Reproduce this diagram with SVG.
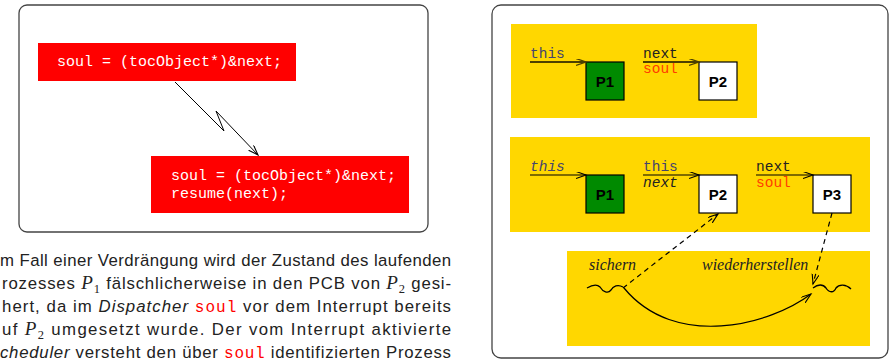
<svg xmlns="http://www.w3.org/2000/svg" width="892" height="363" viewBox="0 0 892 363">
<style>
.frame{fill:#fff;stroke:#444;stroke-width:1.3}
.red{fill:#ff0000}
.code{font-family:"Liberation Mono",monospace;font-size:15px;fill:#fff}
.yel{fill:#ffd700}
.mono{font-family:"Liberation Mono",monospace;font-size:14.5px}
.it{font-style:italic}
.pbox{stroke:#000;stroke-width:1.2}
.plab{font-family:"Liberation Sans",Arial,sans-serif;font-weight:bold;font-size:15px;text-anchor:middle;fill:#000}
.ser{font-family:"Liberation Serif",serif;font-style:italic;font-size:16px;fill:#222}
.para{font-family:"Liberation Sans",Arial,sans-serif;font-size:16.8px;fill:#222}
.math{font-family:"Liberation Serif",serif;font-style:italic;font-size:19px}
.sub{font-family:"Liberation Serif",serif;font-size:12.5px}
.pm{font-family:"Liberation Mono",monospace;fill:#ff0000;font-size:16px}
</style>
<defs>
<marker id="ahOl" markerWidth="12" markerHeight="8" refX="10" refY="3.5" orient="auto" markerUnits="userSpaceOnUse"><path d="M0,0 L10,3.5 L0,7" fill="none" stroke="#4d4000" stroke-width="1.3"/></marker>
<marker id="ahBk" markerWidth="12" markerHeight="8" refX="10" refY="3.5" orient="auto" markerUnits="userSpaceOnUse"><path d="M0,0 L10,3.5 L0,7" fill="none" stroke="#000" stroke-width="1.1"/></marker>
</defs>

<g id="left-panel">
<rect class="frame" x="19" y="5" width="409" height="227" rx="8"/>
</g>
<g id="code1">
<rect class="red" x="38" y="43" width="258" height="38"/>
<text class="code" x="57" y="66">soul = (tocObject*)&amp;next;</text>
</g>
<g id="code2">
<rect class="red" x="151" y="156" width="258" height="57"/>
<text class="code" x="171" y="180">soul = (tocObject*)&amp;next;</text>
<text class="code" x="171" y="198">resume(next);</text>
</g>

<g id="right-panel">
<rect class="frame" x="492" y="5" width="396" height="353" rx="9"/>
</g>
<g id="state1">
<rect class="yel" x="511" y="24" width="246" height="94"/>
<text class="mono" x="530" y="58" fill="#44446e">this</text>
<text class="mono" x="643" y="58" fill="#222">next</text>
<text class="mono" x="643" y="73" fill="#ff3c00">soul</text>
</g>
<g id="s1-P1"><rect class="pbox" x="586" y="62" width="38" height="38" fill="#008a00"/><text class="plab" x="605" y="87">P1</text></g>
<g id="s1-P2"><rect class="pbox" x="699" y="62" width="38" height="38" fill="#fff"/><text class="plab" x="718" y="87">P2</text></g>

<g id="state2">
<rect class="yel" x="510" y="137" width="360" height="95"/>
<text class="mono it" x="530" y="171" fill="#44446e">this</text>
<text class="mono" x="643" y="171" fill="#44446e">this</text>
<text class="mono it" x="643" y="187" fill="#222">next</text>
<text class="mono" x="756" y="171" fill="#222">next</text>
<text class="mono" x="756" y="187" fill="#ff3c00">soul</text>
</g>
<g id="s2-P1"><rect class="pbox" x="586" y="175" width="38" height="38" fill="#008a00"/><text class="plab" x="605" y="200">P1</text></g>
<g id="s2-P2"><rect class="pbox" x="699" y="175" width="38" height="38" fill="#fff"/><text class="plab" x="718" y="200">P2</text></g>
<g id="s2-P3"><rect class="pbox" x="813" y="175" width="38" height="38" fill="#fff"/><text class="plab" x="832" y="200">P3</text></g>

<g id="timeline">
<rect class="yel" x="567" y="251" width="303" height="95"/>
<text class="ser" x="589" y="270">sichern</text>
<text class="ser" x="702" y="270">wiederherstellen</text>
<path d="M587,288 C592,285 597,284 600,287 C603,292 608,294 611,290 C613,286 618,284 623,287" fill="none" stroke="#000" stroke-width="1.3"/>
<path d="M813,288 C818,284 823,284 826,288 C829,293 834,293 836,288 C839,284 846,284 851,289" fill="none" stroke="#000" stroke-width="1.3"/>
</g>

<g id="connectors">
<polyline points="175,82 224,131 216,111 258,155" fill="none" stroke="#000" stroke-width="1" marker-end="url(#ahBk)"/>
<line x1="530" y1="62" x2="586" y2="62" stroke="#4d4000" stroke-width="1.8" marker-end="url(#ahOl)"/>
<line x1="643" y1="62" x2="699" y2="62" stroke="#4d4000" stroke-width="1.8" marker-end="url(#ahOl)"/>
<line x1="530" y1="175" x2="586" y2="175" stroke="#000" stroke-width="1.2" marker-end="url(#ahBk)"/>
<line x1="643" y1="175" x2="699" y2="175" stroke="#000" stroke-width="1.2" marker-end="url(#ahBk)"/>
<line x1="756" y1="175" x2="813" y2="175" stroke="#000" stroke-width="1.2" marker-end="url(#ahBk)"/>
<path d="M624,288 C675,350 770,325 811,294" fill="none" stroke="#000" stroke-width="1.2" marker-end="url(#ahBk)"/>
<line x1="623" y1="288" x2="718" y2="214" stroke="#000" stroke-width="1.2" stroke-dasharray="5,4" marker-end="url(#ahBk)"/>
<line x1="832" y1="213" x2="813" y2="284" stroke="#000" stroke-width="1.2" stroke-dasharray="5,4" marker-end="url(#ahBk)"/>
</g>

<g id="paragraph">
<text class="para" x="0" y="266" textLength="451" lengthAdjust="spacing">m Fall einer Verdrängung wird der Zustand des laufenden</text>
<text class="para" x="2" y="289" textLength="449" lengthAdjust="spacing">rozesses <tspan class="math">P</tspan><tspan class="sub" dy="4">1</tspan><tspan dy="-4"> fälschlicherweise in den PCB von </tspan><tspan class="math">P</tspan><tspan class="sub" dy="4">2</tspan><tspan dy="-4"> gesi-</tspan></text>
<text class="para" x="2" y="312" textLength="449" lengthAdjust="spacing">hert, da im <tspan font-style="italic">Dispatcher</tspan> <tspan class="pm">soul</tspan> vor dem Interrupt bereits</text>
<text class="para" x="2" y="335" textLength="449" lengthAdjust="spacing">uf <tspan class="math">P</tspan><tspan class="sub" dy="4">2</tspan><tspan dy="-4"> umgesetzt wurde. Der vom Interrupt aktivierte</tspan></text>
<text class="para" x="0" y="358" textLength="451" lengthAdjust="spacing"><tspan font-style="italic">cheduler</tspan> versteht den über <tspan class="pm">soul</tspan> identifizierten Prozess</text>
</g>
</svg>
